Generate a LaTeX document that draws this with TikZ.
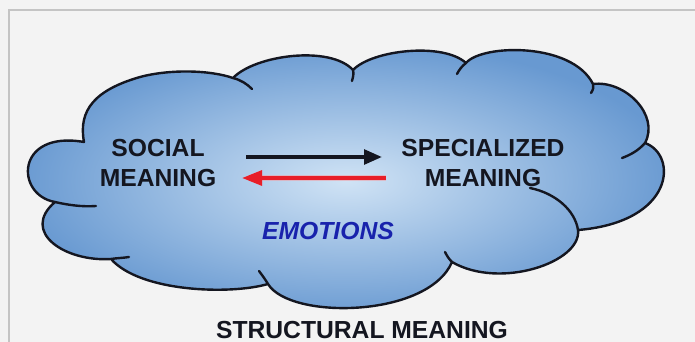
\documentclass[tikz,border=0pt]{standalone}
\usepackage{fontspec}
\setmainfont{Liberation Sans}
\usetikzlibrary{arrows.meta}
\definecolor{pagebg}{HTML}{F3F3F3}
\definecolor{framegray}{HTML}{C4C4C4}
\definecolor{cloudin}{RGB}{208,227,245}
\definecolor{cloudout}{RGB}{104,153,209}
\definecolor{inkdark}{RGB}{20,22,32}
\definecolor{emoblue}{RGB}{24,34,172}
\definecolor{backred}{RGB}{232,30,40}
\tikzset{
  cloudline/.style={draw=inkdark, line width=1.8pt, line cap=round, line join=round},
  lbl/.style={inner sep=0pt, text=inkdark, align=center,
    font=\fontsize{18.5pt}{22.5pt}\selectfont\bfseries},
  emo/.style={inner sep=0pt, text=emoblue,
    font=\fontsize{18.5pt}{22.5pt}\selectfont\bfseries\itshape},
  fwdarrow/.style={draw=inkdark, line width=2.8pt,
    -{Triangle[length=13.5pt,width=11pt]}},
  backarrow/.style={draw=backred, line width=2.8pt,
    preaction={draw=backred!45, line width=4.5pt, opacity=0.5},
    -{Triangle[length=15pt,width=11pt]}},
}
\begin{document}
\begin{tikzpicture}[x=0.75pt,y=-0.75pt]
\useasboundingbox (0,0) rectangle (695,342);
% page and frame
\fill[pagebg] (0,0) rectangle (695,342);
\draw[framegray, line width=1.5pt] (9,342) -- (9,10) -- (695,10);

% cloud body
\shadedraw[cloudline, inner color=cloudin, outer color=cloudout]
  (84,142) .. controls (78,110) and (95,90) .. (140,77)
  .. controls (170,69) and (210,70) .. (233,78)
  .. controls (255,55) and (330,45) .. (353,70)
  .. controls (372,50) and (443,42) .. (466,63)
  .. controls (482,44) and (572,42) .. (593,84)
  .. controls (625,80) and (660,115) .. (645,143)
  .. controls (678,155) and (675,222) .. (578,230)
  .. controls (582,262) and (500,290) .. (452,262)
  .. controls (428,318) and (290,320) .. (268,284)
  .. controls (230,295) and (140,292) .. (111,259)
  .. controls (65,262) and (20,232) .. (55,202)
  .. controls (15,195) and (15,130) .. (84,142) -- cycle;

% inner ends of the cloud arcs
\draw[cloudline] (233,78) .. controls (241,80) and (247,84) .. (252,89);
\draw[cloudline] (353,70) .. controls (354,74) and (353,77) .. (352,81);
\draw[cloudline] (466,63) .. controls (462,66) and (459,70) .. (457,74);
\draw[cloudline] (593,84) .. controls (594,87) and (593,90) .. (591,93);
\draw[cloudline] (645,143) .. controls (638,151) and (630,155) .. (622,158);
\draw[cloudline] (530,188) .. controls (555,193) and (575,210) .. (578,230);
\draw[cloudline] (452,262) .. controls (449,259) and (447,256) .. (445,252);
\draw[cloudline] (268,284) .. controls (265,279) and (262,275) .. (259,271);
\draw[cloudline] (111,259) .. controls (117,258) and (123,258) .. (129,257);
\draw[cloudline] (55,202) .. controls (68,205) and (82,207) .. (96,206);

% labels
\node[lbl] (social) at (158,163.5) {SOCIAL\\MEANING};
\node[lbl] (special) at (483,163.5) {SPECIALIZED\\MEANING};
\node[emo] (emotions) at (328,231.5) {EMOTIONS};
\node[lbl] (structural) at (362,330) {STRUCTURAL MEANING};

% arrows between the two meanings
\coordinate (fwdstart) at (246,157);
\coordinate (fwdend) at (382,157);
\coordinate (backstart) at (386,178);
\coordinate (backend) at (242,178);
\draw[fwdarrow] (fwdstart) -- (fwdend);
\draw[backarrow] (backstart) -- (backend);
\end{tikzpicture}
\end{document}
